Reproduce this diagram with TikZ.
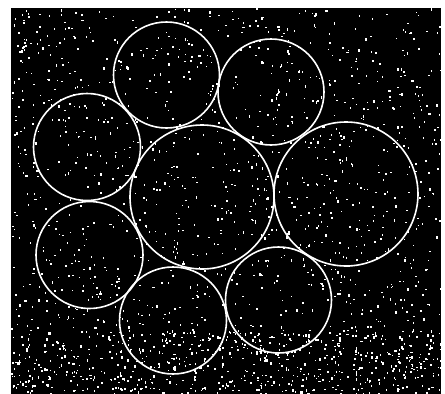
\documentclass[tikz,border=0pt]{standalone}
\usepackage{tikz}
\usetikzlibrary{positioning}

\tikzset{
  disc/.style={circle, draw=white, line width=1.6pt, inner sep=0pt},
  speck/.style={fill=white}
}

\begin{document}
\begin{tikzpicture}[x=1pt,y=-1pt]

% --- FRAME ---
\fill[white] (0,0) rectangle (445,394);
\useasboundingbox (0,0) rectangle (445,394);
\fill[black] (11,8) rectangle (441,394);

% --- SPECKLE ---
\pgfmathsetseed{4711}
\foreach \i in {1,...,1400} {
  \fill[speck] ({11+430*rnd},{8+386*rnd}) rectangle +({0.8+1.4*rnd},{0.8+1.8*rnd});
}
\foreach \i in {1,...,500} {
  \fill[speck] ({11+430*rnd},{330+64*rnd}) rectangle +({0.8+1.6*rnd},{0.8+2*rnd});
}

% --- CIRCLES ---
\node[disc, minimum size=106pt] (top)      at (166.5,75)  {};
\node[disc, minimum size=106pt] (topright) at (271,92)    {};
\node[disc, minimum size=107pt] (leftup)   at (87,147)    {};
\node[disc, minimum size=144pt] (mid)      at (202,197)   {};
\node[disc, minimum size=144pt] (right)    at (346,194)   {};
\node[disc, minimum size=107pt] (leftlow)  at (89.5,255)  {};
\node[disc, minimum size=107pt] (bottom)   at (173,320.5) {};
\node[disc, minimum size=106pt] (botright) at (278.5,300) {};

\end{tikzpicture}
\end{document}
